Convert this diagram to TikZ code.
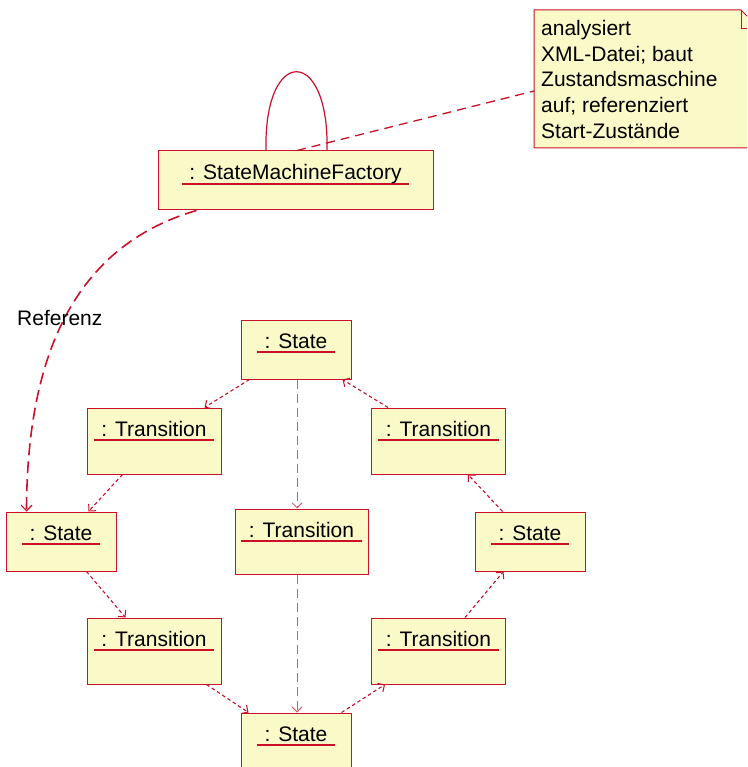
\documentclass[tikz,border=0pt]{standalone}
\usepackage{fontspec}
\setmainfont{Liberation Sans}
\usetikzlibrary{arrows.meta,calc}

\definecolor{umlred}{RGB}{204,16,40}
\definecolor{umlpink}{RGB}{214,90,110}
\definecolor{umlfill}{RGB}{250,249,200}

% object name, underlined in red like a UML instance
\newcommand\objname[1]{\setbox0\hbox{#1}%
  \rlap{\color{umlred}\kern-7.5pt\vrule width \dimexpr\wd0+15pt\relax height -3pt depth 4.6pt}\box0}

\tikzset{
  obj/.style={draw=umlred, fill=umlfill, line width=1pt, inner sep=0pt,
    font=\fontsize{21}{25}\selectfont, text height=28pt},
  stateobj/.style={obj, minimum width=110pt, text depth=31pt},
  transobj/.style={obj, minimum width=134pt, text depth=38pt},
  tip/.style={-{Straight Barb[length=5pt,width=10pt,line width=1pt]}},
  flow/.style={umlred, line width=1.1pt, dash pattern=on 3.5pt off 2.8pt, tip},
  link/.style={umlpink, line width=0.8pt, dash pattern=on 9pt off 5pt, tip},
  ref/.style={umlred, line width=1.6pt, dash pattern=on 12pt off 6pt,
    -{Straight Barb[length=5.5pt,width=11pt,line width=1.2pt]}},
  anno/.style={umlred, line width=1.3pt, dash pattern=on 9pt off 6pt},
}

\begin{document}
\begin{tikzpicture}[x=1pt,y=-1pt]
\useasboundingbox (0,0) rectangle (747,767);
\clip (0,0) rectangle (747,767);

% factory and its note
\node[obj, minimum width=275pt, text height=29pt, text depth=30pt] (f) at (295.5,180.5)
  {\objname{: StateMachineFactory}};

\coordinate (nw) at (534,10);
\coordinate (nse) at (760,148);
\fill[umlfill] (nw) -- (741,10) -- (760,29) -- (nse) -- (534,148) -- cycle;
\draw[umlred, line width=1pt] (nw) -- (741,10) -- (760,29) -- (nse) -- (534,148) -- cycle;
\draw[umlred, line width=1pt] (741,10) -- (741,29) -- (760,29);
\node[anchor=north west, inner sep=0pt, align=left,
  font=\fontsize{21}{25.7}\selectfont] (note) at (541,20)
  {analysiert\\XML-Datei; baut\\Zustandsmaschine\\auf; referenziert\\Start-Zustände};

% states and transitions
\node[stateobj] (s1) at (296,349.5) {\objname{: State}};
\node[transobj] (t1) at (154,441) {\objname{: Transition}};
\node[transobj] (t2) at (438.5,441) {\objname{: Transition}};
\node[stateobj] (s2) at (61,541.5) {\objname{: State}};
\node[transobj, minimum width=133pt, text depth=37pt] (tc) at (301.5,541.5) {\objname{: Transition}};
\node[stateobj] (s3) at (530,541.5) {\objname{: State}};
\node[transobj] (t3) at (154,651) {\objname{: Transition}};
\node[transobj] (t4) at (438.5,651) {\objname{: Transition}};
\node[stateobj] (s4) at (296,742.5) {\objname{: State}};

% self call of the factory
\draw[umlred, line width=1.2pt] ($(f.north)+(-29.5,0)$) .. controls ($(f.north)+(-32,-105)$)
  and ($(f.north)+(34,-105)$) .. ($(f.north)+(31.5,0)$);

% note attachment
\draw[anno] ($(f.north)+(1.5,0)$) -- ($(nw)+(0,81)$);

% reference to the start state
\draw[ref] ($(f.south west)+(39,0)$) .. controls (60,250) and (27,380) .. ($(s2.north west)+(21,0)$);
\node[anchor=base west, inner sep=0pt, font=\fontsize{21}{25}\selectfont] (reflabel)
  at (17,325) {Referenz};

% cycle of states and transitions
\draw[flow] ($(s1.south west)+(9,0)$) -- ($(t1.north east)+(-17,0)$);
\draw[flow] ($(t1.south west)+(36,0)$) -- ($(s2.north west)+(83,0)$);
\draw[flow] ($(s2.south west)+(81,0)$) -- ($(t3.north west)+(39,0)$);
\draw[flow] ($(t3.south east)+(-15,0)$) -- ($(s4.north west)+(8,0)$);
\draw[flow] ($(s4.north east)+(-10,0)$) -- ($(t4.south west)+(14,0)$);
\draw[flow] ($(t4.north west)+(94,0)$) -- ($(s3.south west)+(29,0)$);
\draw[flow] ($(s3.north west)+(28,0)$) -- ($(t2.south west)+(97,0)$);
\draw[flow] ($(t2.north west)+(17,0)$) -- ($(s1.south east)+(-9,0)$);

% direct path through the middle transition
\coordinate (ma) at ($(s1.south)+(1,0)$);
\coordinate (mb) at ($(s4.north)+(1,0)$);
\draw[link] (ma) -- (ma |- tc.north);
\draw[link] (mb |- tc.south) -- (mb);
\end{tikzpicture}
\end{document}
